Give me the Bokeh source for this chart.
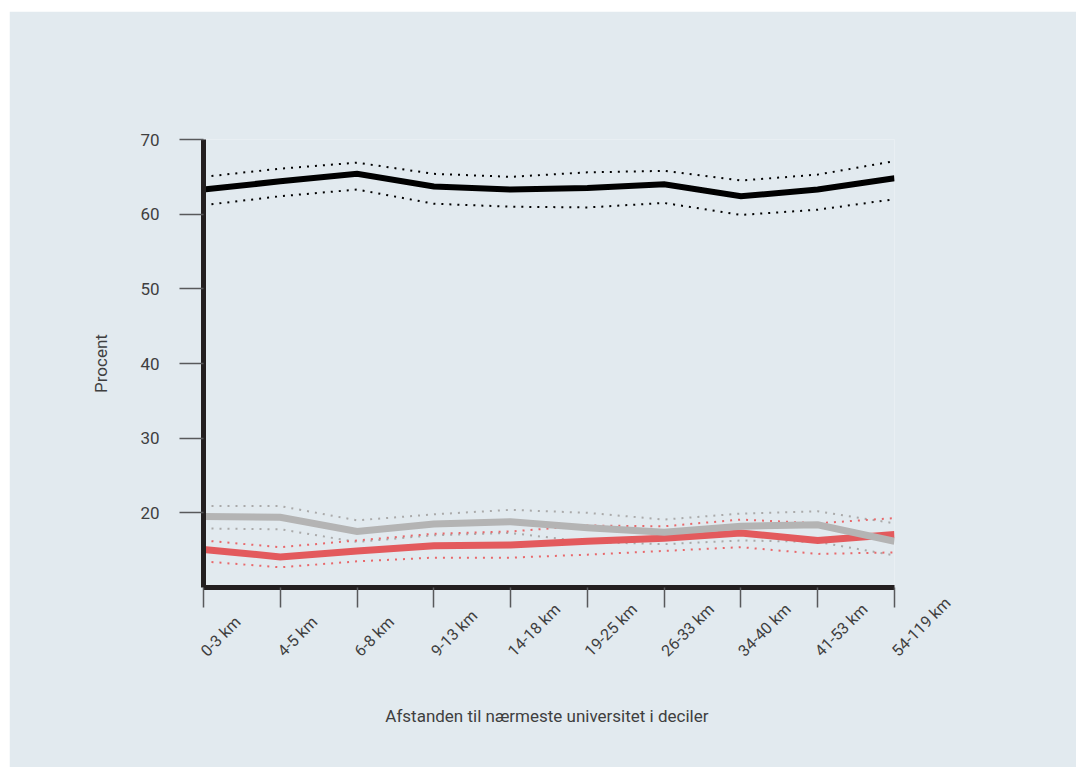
import math
from bokeh.plotting import figure
from bokeh.models import Range1d, FixedTicker
from bokeh.embed import file_html
from bokeh.resources import INLINE

categories = ["0-3 km", "4-5 km", "6-8 km", "9-13 km", "14-18 km",
              "19-25 km", "26-33 km", "34-40 km", "41-53 km", "54-119 km"]

black = [63.3, 64.4, 65.4, 63.7, 63.3, 63.5, 64.0, 62.4, 63.3, 64.8]
black_hi = [65.0, 66.1, 66.9, 65.4, 65.0, 65.6, 65.8, 64.5, 65.3, 67.1]
black_lo = [61.2, 62.4, 63.3, 61.4, 61.0, 60.9, 61.5, 59.9, 60.6, 62.0]

gray = [19.5, 19.4, 17.5, 18.5, 18.8, 18.0, 17.4, 18.2, 18.4, 16.2]
gray_hi = [20.9, 20.9, 19.0, 19.8, 20.4, 20.0, 19.1, 19.9, 20.2, 18.6]
gray_lo = [17.9, 17.8, 16.1, 17.0, 17.3, 16.1, 15.8, 16.3, 16.1, 14.3]

red = [15.1, 14.1, 14.9, 15.6, 15.7, 16.2, 16.6, 17.3, 16.3, 17.1]
red_hi = [16.3, 15.4, 16.3, 17.2, 17.5, 18.3, 18.2, 19.1, 18.6, 19.3]
red_lo = [13.5, 12.7, 13.5, 14.0, 14.0, 14.4, 14.9, 15.4, 14.5, 14.7]

y_ticks = [20, 30, 40, 50, 60, 70]
y_min, y_max = 10, 70

BG = "#e2eaef"
TXT = "#3f3f3f"
AX = "#231f20"
TICK = "#58595b"
FONT = "Roboto"

x = list(range(len(categories)))

p = figure(width=1067, height=756, output_backend="svg", toolbar_location=None,
           x_range=Range1d(0, len(categories) - 1), y_range=Range1d(y_min, y_max),
           min_border_left=194, min_border_right=182,
           min_border_top=128, min_border_bottom=180)
p.margin = (11, 0, 0, 9)

p.background_fill_color = BG
p.border_fill_color = BG
p.outline_line_color = None
p.xgrid.visible = False
p.ygrid.visible = False

# dotted bounds
p.line(x, gray_hi, line_color="#aaaaaa", line_width=2, line_dash="2 6")
p.line(x, gray_lo, line_color="#aaaaaa", line_width=2, line_dash="2 6")
p.line(x, red_hi, line_color="#e8686b", line_width=2, line_dash="2 6")
p.line(x, red_lo, line_color="#e8686b", line_width=2, line_dash="2 6")
p.line(x, black_hi, line_color="black", line_width=2, line_dash="2 6")
p.line(x, black_lo, line_color="black", line_width=2, line_dash="2 6")

# main lines
p.line(x, red, line_color="#e35a5d", line_width=7, line_join="miter")
p.line(x, gray, line_color="#b4b4b4", line_width=7, line_join="miter")
p.line(x, black, line_color="black", line_width=6, line_join="miter")

for ax in (p.xaxis[0], p.yaxis[0]):
    ax.axis_line_color = AX
    ax.axis_line_width = 5
    ax.major_tick_line_color = TICK
    ax.major_tick_line_width = 1.5
    ax.major_tick_in = 0
    ax.minor_tick_line_color = None
    ax.major_label_text_font = FONT
    ax.major_label_text_font_size = "17px"
    ax.major_label_text_color = TXT
    ax.axis_label_text_font = FONT
    ax.axis_label_text_font_size = "17px"
    ax.axis_label_text_font_style = "normal"
    ax.axis_label_text_color = TXT

p.xaxis.ticker = FixedTicker(ticks=x)
p.xaxis.major_label_overrides = {i: c for i, c in enumerate(categories)}
# -7*pi/4 == +pi/4 visually, but makes Bokeh anchor the label's start at the tick
p.xaxis.major_label_orientation = -7 * math.pi / 4
p.xaxis.major_label_text_font_size = "16px"
p.xaxis.major_tick_out = 20
p.xaxis.major_label_standoff = 46
p.xaxis.axis_label = "Afstanden til nærmeste universitet  i deciler"
p.xaxis.axis_label_standoff = 10

p.yaxis.ticker = FixedTicker(ticks=y_ticks)
p.yaxis.major_tick_out = 24
p.yaxis.major_label_standoff = 20
p.yaxis.axis_label = "Procent"
p.yaxis.axis_label_standoff = 26

open("out.html", "w").write(file_html(p, INLINE))
